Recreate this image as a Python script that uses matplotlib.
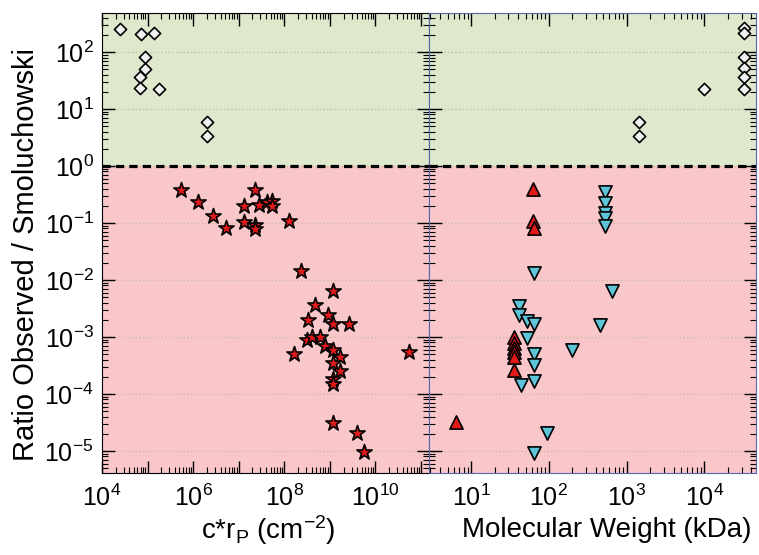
import numpy as np
import matplotlib
matplotlib.use('Agg')
import matplotlib.pyplot as plt
from matplotlib.ticker import LogLocator, FixedLocator, FuncFormatter, NullFormatter

plt.rcParams['font.family'] = ['Liberation Sans', 'DejaVu Sans']
plt.rcParams['mathtext.fontset'] = 'custom'
plt.rcParams['mathtext.rm'] = 'Liberation Sans'
plt.rcParams['mathtext.it'] = 'Liberation Sans:italic'
plt.rcParams['axes.unicode_minus'] = False

# left panel: c*r_P vs ratio
diam_cr = [2.5e4, 7e4, 1.4e5, 9e4, 9e4, 6.8e4, 6.8e4, 1.8e5, 2e6, 2e6]
diam_cr_ratio = [250, 208, 218, 81, 50, 37, 23, 22, 5.9, 3.3]

star_cr = [5.4e5, 1.3e6, 2.7e6, 5.2e6, 1.3e7, 1.3e7, 2.3e7, 2.3e7, 2.3e7, 2.8e7,
           4.1e7, 5.4e7, 5.5e7, 1.3e8, 2.3e8, 1.2e9, 4.7e8, 3.3e8, 9.1e8, 1.2e9,
           2.6e9, 3.1e8, 4.1e8, 6e8, 7.9e8, 1.2e9, 1.7e9, 1.2e9, 1.7e9, 1.2e9,
           1.2e9, 1.6e8, 5.4e10, 1.2e9, 3.9e9, 5.6e9]
star_ratio = [0.38, 0.23, 0.135, 0.083, 0.20, 0.105, 0.38, 0.091, 0.078, 0.21,
              0.23, 0.24, 0.20, 0.11, 0.0145, 0.0065, 0.0036, 0.002, 0.0024, 0.0017,
              0.0017, 0.0009, 0.001, 0.001, 0.0007, 0.0006, 0.00044, 0.00035, 0.00025, 0.00018,
              0.00015, 0.00051, 0.00054, 3.1e-5, 2.1e-5, 9.5e-6]

# right panel: molecular weight vs ratio
diam_mw = [32000, 32000, 32000, 32000, 32000, 32000, 9800, 1450, 1450]
diam_mw_ratio = [260, 213, 81, 52, 37, 22, 22, 5.9, 3.3]

up_mw = [6.4, 63, 63, 65, 36, 36, 36, 36, 36, 36]
up_ratio = [3.2e-5, 0.40, 0.11, 0.08, 0.001, 0.00078, 0.00063, 0.00055, 0.00045, 0.00026]

down_mw = [520, 520, 520, 520, 520, 65, 650, 41, 41, 52, 65, 450, 52, 200, 65, 65, 65, 44, 95, 65]
down_ratio = [0.35, 0.22, 0.15, 0.12, 0.09, 0.0135, 0.0063, 0.0035, 0.0024, 0.0019,
              0.0017, 0.0016, 0.00095, 0.00058, 0.00051, 0.00032, 0.00017, 0.000145, 2.1e-5, 9.3e-6]

# tick decades shown
y_decades = [1e-5, 1e-4, 1e-3, 1e-2, 1e-1, 1e0, 1e1, 1e2]
cr_decades = [1e4, 1e5, 1e6, 1e7, 1e8, 1e9, 1e10, 1e11]
mw_decades = [1e1, 1e2, 1e3, 1e4]

green = '#dde8cc'
pink = '#f9c6c9'
red = '#e31a1c'
cyan = '#5ec4d8'
frame_blue = '#5566aa'

fig = plt.figure(figsize=(7.59, 5.55), dpi=100)
ax1 = fig.add_axes([102/759, 82/555, 327/759, 460/555])
ax2 = fig.add_axes([429/759, 82/555, 327/759, 460/555])

ylo, yhi = 4.1e-6, 483


def even_label(v, pos):
    e = int(round(np.log10(v)))
    if e % 2:
        return ''
    return r'$\mathdefault{10^{%d}}$' % e


def dec_label(v, pos):
    e = int(round(np.log10(v)))
    return r'$\mathdefault{10^{%d}}$' % e


for ax in (ax1, ax2):
    ax.set_yscale('log')
    ax.set_xscale('log')
    ax.axhspan(1, 1e4, color=green, zorder=0, lw=0)
    ax.axhspan(1e-8, 1, color=pink, zorder=0, lw=0)
    ax.axhline(1, color='black', ls=(0, (2.6, 1.6)), lw=2.3, zorder=4)
    ax.set_ylim(ylo, yhi)
    ax.yaxis.set_major_locator(FixedLocator(y_decades))
    ax.yaxis.set_minor_locator(LogLocator(base=10, subs=np.arange(2, 10), numticks=20))
    ax.xaxis.set_minor_locator(LogLocator(base=10, subs=np.arange(2, 10), numticks=20))
    ax.xaxis.set_minor_formatter(NullFormatter())
    ax.yaxis.set_minor_formatter(NullFormatter())
    ax.grid(True, axis='y', which='major', ls=':', color='#c9bf9a', lw=1)
    ax.tick_params(which='both', direction='in', top=True, right=True, labelsize=18)
    ax.tick_params(which='major', length=9, width=1)
    ax.tick_params(which='minor', length=4.5, width=0.8)
    ax.tick_params(axis='x', pad=8)
    ax.tick_params(axis='y', pad=6)

mk = dict(edgecolors='black', linewidths=1.2, zorder=5)
ax1.scatter(diam_cr, diam_cr_ratio, marker='D', s=6.2**2, c='#f0f0f0', **mk)
ax1.scatter(star_cr, star_ratio, marker='*', s=11.5**2, c=red, **mk)
ax1.set_xlim(1e4, 1.5e11)
ax1.xaxis.set_major_locator(FixedLocator(cr_decades))
ax1.xaxis.set_major_formatter(FuncFormatter(even_label))
ax1.yaxis.set_major_formatter(FuncFormatter(dec_label))
ax1.set_ylabel('Ratio Observed / Smoluchowski', fontsize=21)
ax1.yaxis.set_label_coords(-0.19, 0.475)
ax1.set_xlabel(r'c*r$_\mathregular{P}$ (cm$^\mathregular{-2}$)', fontsize=20)
ax1.xaxis.set_label_coords(0.51, -0.088)

ax2.scatter(diam_mw, diam_mw_ratio, marker='D', s=6.2**2, c='#f0f0f0', **mk)
ax2.scatter(up_mw, up_ratio, marker='^', s=9.5**2, c=red, **mk)
ax2.scatter(down_mw, down_ratio, marker='v', s=9.5**2, c=cyan, **mk)
ax2.set_xlim(2.87, 4.6e4)
ax2.xaxis.set_major_locator(FixedLocator(mw_decades))
ax2.xaxis.set_major_formatter(FuncFormatter(dec_label))
ax2.tick_params(axis='y', labelleft=False)
ax2.set_xlabel('Molecular Weight (kDa)', fontsize=20)
ax2.xaxis.set_label_coords(0.545, -0.095)
for sp in ax2.spines.values():
    sp.set_color(frame_blue)

fig.savefig('out.png', dpi=100)
